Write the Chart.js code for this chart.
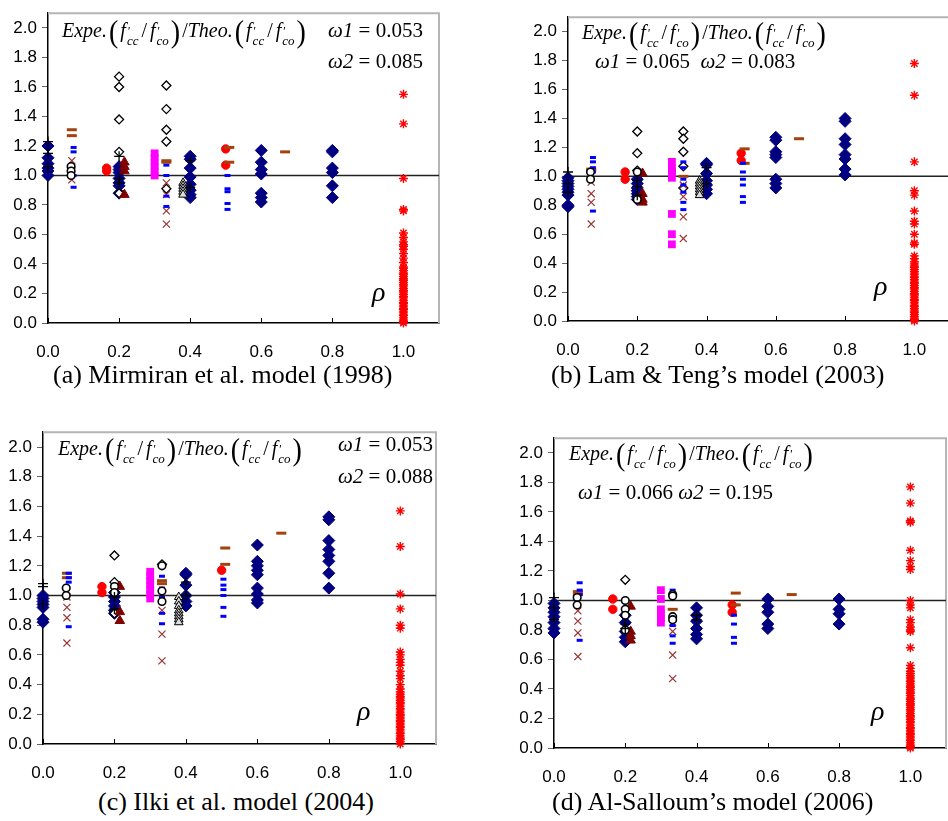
<!DOCTYPE html>
<html>
<head>
<meta charset="utf-8">
<script src="https://cdn.jsdelivr.net/npm/chart.js@4.4.1/dist/chart.umd.min.js"></script>
<style>
  html, body { margin: 0; padding: 0; background: #fff; }
  body { width: 948px; height: 821px; position: relative; overflow: hidden;
         font-family: "Liberation Serif", "Times New Roman", serif; }
  .panel { position: absolute; }
  .txt { position: absolute; white-space: nowrap; color: #000; line-height: 1; }
  .fm { font-size: 20px; }
  .fm i { font-style: italic; }
  .par { display: inline-block; font-size: 28px; transform: scaleY(1.15); vertical-align: -4px; margin: 0 2px; font-weight: 300; }
  .sl { margin: 0 3px; }
  .ss { display: inline-block; vertical-align: -8px; font-size: 13px; line-height: 10px; font-style: italic; margin-left: 1px; }
  .om { font-size: 21px; }
  .om i { font-style: italic; }
  .cap { font-size: 26px; }
  .rho { font-size: 28px; font-style: italic; }
</style>
</head>
<body>

<div class="panel" style="left:4px;top:-2px;width:443px;height:365px"><canvas id="ca" width="443" height="365"></canvas></div>
<div class="panel" style="left:524px;top:2px;width:433px;height:359px"><canvas id="cb" width="433" height="359"></canvas></div>
<div class="panel" style="left:-1px;top:417px;width:445px;height:367px"><canvas id="cc" width="445" height="367"></canvas></div>
<div class="panel" style="left:510px;top:423px;width:444px;height:365px"><canvas id="cd" width="444" height="365"></canvas></div>

<!-- formula & annotations -->
<div class="txt fm" style="left:62px;top:18px"><i>Expe.</i><span class="par">(</span><i>f</i><span class="ss">'<br>cc</span><span class="sl">/</span><i>f</i><span class="ss">'<br>co</span><span class="par">)</span>/<i>Theo.</i><span class="par">(</span><i>f</i><span class="ss">'<br>cc</span><span class="sl">/</span><i>f</i><span class="ss">'<br>co</span><span class="par">)</span></div>
<div class="txt om" style="left:328px;top:20px"><i>ω1</i> = 0.053</div>
<div class="txt om" style="left:328px;top:51px"><i>ω2</i> = 0.085</div>
<div class="txt rho" style="left:372px;top:278px">ρ</div>
<div class="txt cap" style="left:53px;top:362px">(a) Mirmiran et al. model (1998)</div>

<div class="txt fm" style="left:582px;top:20px"><i>Expe.</i><span class="par">(</span><i>f</i><span class="ss">'<br>cc</span><span class="sl">/</span><i>f</i><span class="ss">'<br>co</span><span class="par">)</span>/<i>Theo.</i><span class="par">(</span><i>f</i><span class="ss">'<br>cc</span><span class="sl">/</span><i>f</i><span class="ss">'<br>co</span><span class="par">)</span></div>
<div class="txt om" style="left:595px;top:51px"><i>ω1</i> = 0.065 &nbsp;<i>ω2</i> = 0.083</div>
<div class="txt rho" style="left:874px;top:272px">ρ</div>
<div class="txt cap" style="left:551px;top:362px">(b) Lam &amp; Teng’s model (2003)</div>

<div class="txt fm" style="left:58px;top:436px"><i>Expe.</i><span class="par">(</span><i>f</i><span class="ss">'<br>cc</span><span class="sl">/</span><i>f</i><span class="ss">'<br>co</span><span class="par">)</span>/<i>Theo.</i><span class="par">(</span><i>f</i><span class="ss">'<br>cc</span><span class="sl">/</span><i>f</i><span class="ss">'<br>co</span><span class="par">)</span></div>
<div class="txt om" style="left:338px;top:434px"><i>ω1</i> = 0.053</div>
<div class="txt om" style="left:338px;top:466px"><i>ω2</i> = 0.088</div>
<div class="txt rho" style="left:357px;top:697px">ρ</div>
<div class="txt cap" style="left:98px;top:789px">(c) Ilki et al. model (2004)</div>

<div class="txt fm" style="left:569px;top:441px"><i>Expe.</i><span class="par">(</span><i>f</i><span class="ss">'<br>cc</span><span class="sl">/</span><i>f</i><span class="ss">'<br>co</span><span class="par">)</span>/<i>Theo.</i><span class="par">(</span><i>f</i><span class="ss">'<br>cc</span><span class="sl">/</span><i>f</i><span class="ss">'<br>co</span><span class="par">)</span></div>
<div class="txt om" style="left:578px;top:482px"><i>ω1</i> = 0.066 <i>ω2</i> = 0.195</div>
<div class="txt rho" style="left:871px;top:697px">ρ</div>
<div class="txt cap" style="left:552px;top:789px">(d) Al-Salloum’s model (2006)</div>

<script>
// tick values
const xTicks = [0, 0.2, 0.4, 0.6, 0.8, 1.0];
const yTicks = [0, 0.2, 0.4, 0.6, 0.8, 1.0, 1.2, 1.4, 1.6, 1.8, 2.0];
const xMax = 1.1, yMax = 2.1;
const refLine = 1.0;

// each group: [rho, ratio, ratio, ...]
// (a) Mirmiran et al. (1998)
const aNavy = [[0, 1.20, 1.12, 1.08, 1.05, 1.03, 1.00], [0.2, 1.06, 1.04, 1.02, 0.98, 0.95, 0.93, 0.88],
  [0.4, 1.13, 1.11, 1.05, 0.99, 0.94, 0.90, 0.87, 0.85], [0.6, 1.17, 1.09, 1.04, 1.01, 0.88, 0.85, 0.82],
  [0.8, 1.17, 1.16, 1.05, 1.02, 0.93, 0.85]];
const aPlus = [[0, 1.23, 1.15, 1.06], [0.2, 1.13, 0.98, 0.95], [0.4, 1.10, 0.92]];
const aCircle = [[0.065, 1.06, 1.03, 1.00]];
const aBlueDash = [[0.072, 1.19, 1.16, 1.00, 0.92], [0.333, 1.07, 1.00, 0.86, 0.79], [0.505, 1.00, 0.91, 0.89, 0.81, 0.77]];
const aCross = [[0.067, 1.10, 1.03, 0.97], [0.333, 0.95, 0.87, 0.76, 0.67]];
const aBrownDash = [[0.067, 1.31, 1.27], [0.333, 1.10, 1.09], [0.51, 1.19, 1.09], [0.667, 1.16]];
const aRedDot = [[0.165, 1.05, 1.03], [0.5, 1.18, 1.07]];
const aTri = [[0.215, 1.09, 1.06, 1.03, 0.87]];
const aMagenta = [[0.3, 1.15, 1.12, 1.09, 1.06, 1.03, 1.00]];
const aDiamond = [[0.2, 1.67, 1.60, 1.38, 1.16, 0.88], [0.333, 1.61, 1.45, 1.31, 1.23, 0.91]];
const aOpenTri = [[0.38, 0.95, 0.93, 0.91, 0.89, 0.87]];
const aStar = [[1.0, 1.55, 1.35, 0.98, 0.77, 0.76, 0.61, 0.58, 0.55, 0.53, 0.52, 0.50, 0.47, 0.44, 0.41, 0.38,
  0.37, 0.355, 0.34, 0.33, 0.315, 0.30, 0.29, 0.275, 0.26, 0.25, 0.235, 0.22, 0.21, 0.195, 0.18, 0.17, 0.155,
  0.14, 0.13, 0.115, 0.10, 0.09, 0.075, 0.06, 0.05, 0.035, 0.02, 0.01, 0.0]];

// (b) Lam & Teng (2003)
const bNavy = [[0, 0.99, 0.97, 0.95, 0.93, 0.91, 0.89, 0.87, 0.80, 0.79], [0.2, 0.98, 0.95, 0.92, 0.90, 0.88, 0.86, 0.84],
  [0.4, 1.09, 1.08, 1.02, 0.97, 0.94, 0.91, 0.88], [0.6, 1.27, 1.25, 1.17, 1.15, 1.13, 0.98, 0.95, 0.92],
  [0.8, 1.40, 1.38, 1.26, 1.22, 1.15, 1.12, 1.05, 1.01]];
const bPlus = [[0, 1.03, 0.95, 0.89], [0.2, 0.97, 0.93, 0.87], [0.4, 1.06, 0.95]];
const bCircle = [[0.065, 1.03, 0.98], [0.2, 1.03, 0.84]];
const bBlueDash = [[0.072, 1.13, 1.10, 1.06, 1.03, 0.76], [0.333, 1.10, 1.06, 0.98, 0.94, 0.89, 0.82, 0.77],
  [0.505, 1.09, 1.03, 0.98, 0.94, 0.86, 0.82]];
const bCross = [[0.067, 0.96, 0.88, 0.82, 0.67], [0.333, 0.94, 0.86, 0.72, 0.57]];
const bBrownDash = [[0.067, 1.05, 1.04], [0.333, 1.00], [0.51, 1.19, 1.09], [0.667, 1.26]];
const bRedDot = [[0.165, 1.03, 0.98], [0.5, 1.16, 1.11]];
const bTri = [[0.215, 1.02, 0.88, 0.84, 0.82]];
const bMagenta = [[0.3, 1.10, 1.06, 1.04, 1.02, 0.99, 0.74, 0.60, 0.53]];
const bDiamond = [[0.2, 1.31, 1.16, 1.04], [0.333, 1.31, 1.26, 1.17, 1.07, 0.92]];
const bOpenTri = [[0.38, 0.97, 0.95, 0.93, 0.91, 0.89, 0.87]];
const bStar = [[1.0, 1.78, 1.56, 1.10, 0.90, 0.87, 0.76, 0.69, 0.67, 0.60, 0.54, 0.53, 0.45, 0.43, 0.41, 0.395,
  0.38, 0.37, 0.355, 0.34, 0.325, 0.31, 0.30, 0.285, 0.27, 0.26, 0.245, 0.23, 0.22, 0.205, 0.19, 0.18, 0.165,
  0.15, 0.14, 0.125, 0.11, 0.10, 0.085, 0.07, 0.06, 0.045, 0.03, 0.02, 0.01, 0.0]];

// (c) Ilki et al. (2004)
const cNavy = [[0, 1.00, 0.98, 0.96, 0.94, 0.92, 0.84, 0.82], [0.2, 1.02, 0.99, 0.96, 0.93, 0.90, 0.88],
  [0.4, 1.15, 1.14, 1.07, 1.00, 0.96, 0.93], [0.6, 1.34, 1.23, 1.20, 1.17, 1.14, 1.05, 1.01, 0.97, 0.95],
  [0.8, 1.53, 1.51, 1.37, 1.31, 1.27, 1.23, 1.15, 1.05]];
const cPlus = [[0, 1.08, 1.06, 0.94], [0.2, 0.99, 0.91], [0.4, 1.09, 1.00]];
const cCircle = [[0.065, 1.05, 1.00], [0.2, 1.06, 1.02], [0.333, 1.20, 1.03, 0.96]];
const cBlueDash = [[0.072, 1.15, 1.12, 1.09, 0.79], [0.333, 1.13, 1.05, 0.99, 0.88, 0.81],
  [0.505, 1.11, 1.07, 1.04, 1.00, 0.92, 0.86]];
const cCross = [[0.067, 0.99, 0.92, 0.85, 0.68], [0.333, 0.98, 0.90, 0.74, 0.56]];
const cBrownDash = [[0.067, 1.15, 1.12], [0.333, 1.10, 1.08], [0.51, 1.32, 1.21], [0.667, 1.42]];
const cRedDot = [[0.165, 1.06, 1.02], [0.5, 1.17]];
const cTri = [[0.215, 1.06, 0.89, 0.83]];
const cMagenta = [[0.3, 1.16, 1.13, 1.10, 1.07, 1.04, 1.01, 0.98]];
const cDiamond = [[0.2, 1.27, 1.09, 0.88], [0.333, 1.21]];
const cOpenTri = [[0.38, 0.99, 0.96, 0.93, 0.90, 0.88, 0.86, 0.84, 0.82]];
const cStar = [[1.0, 1.57, 1.33, 1.01, 0.91, 0.80, 0.78, 0.62, 0.60, 0.57, 0.55, 0.53, 0.49, 0.46, 0.44, 0.40,
  0.37, 0.35, 0.335, 0.32, 0.31, 0.295, 0.28, 0.27, 0.255, 0.24, 0.23, 0.215, 0.20, 0.19, 0.175, 0.16, 0.15,
  0.135, 0.12, 0.11, 0.095, 0.08, 0.07, 0.055, 0.04, 0.03, 0.015, 0.0]];

// (d) Al-Salloum (2006)
const dNavy = [[0, 0.98, 0.95, 0.92, 0.89, 0.85, 0.81, 0.78], [0.2, 0.90, 0.85, 0.79, 0.75, 0.72],
  [0.4, 0.95, 0.90, 0.86, 0.81, 0.77, 0.74], [0.6, 1.01, 0.96, 0.92, 0.84, 0.81],
  [0.8, 1.01, 0.94, 0.91, 0.84]];
const dPlus = [[0, 1.02, 0.95, 0.87], [0.2, 0.84, 0.81], [0.4, 0.90, 0.87]];
const dCircle = [[0.065, 1.02, 0.97], [0.2, 1.00, 0.94, 0.90, 0.80], [0.333, 1.04, 1.03, 0.89, 0.87]];
const dBlueDash = [[0.072, 1.12, 1.07, 1.04, 0.73], [0.333, 1.07, 1.04, 0.83, 0.76, 0.71],
  [0.505, 0.90, 0.84, 0.75, 0.71]];
const dCross = [[0.067, 0.93, 0.86, 0.78, 0.62], [0.333, 0.85, 0.79, 0.63, 0.47]];
const dBrownDash = [[0.067, 1.06, 1.04], [0.333, 0.94], [0.51, 1.05, 0.97], [0.667, 1.04]];
const dRedDot = [[0.165, 1.01, 0.94], [0.5, 0.97, 0.92]];
const dTri = [[0.215, 0.96, 0.79, 0.76, 0.73]];
const dMagenta = [[0.3, 1.07, 1.01, 0.94, 0.91, 0.88, 0.85]];
const dDiamond = [[0.2, 1.14]];
const dOpenTri = [];
const dStar = [[1.0, 1.77, 1.66, 1.54, 1.53, 1.34, 1.27, 1.23, 1.21, 1.00, 0.97, 0.95, 0.87, 0.85, 0.82, 0.80,
  0.79, 0.68, 0.56, 0.54, 0.52, 0.505, 0.49, 0.475, 0.46, 0.45, 0.435, 0.42, 0.41, 0.395, 0.38, 0.37, 0.355,
  0.34, 0.33, 0.315, 0.30, 0.29, 0.275, 0.26, 0.25, 0.235, 0.22, 0.21, 0.195, 0.18, 0.17, 0.155, 0.14, 0.13,
  0.115, 0.10, 0.09, 0.075, 0.06, 0.05, 0.035, 0.02, 0.01, 0.0]];

// marker styles for each series
const seriesStyles = [
  { style: 'rectRot', r: 6, fill: '#000080', stroke: '#000080', bw: 1, order: 50 },
  { style: 'cross', r: 5, fill: '#000', stroke: '#000', bw: 1.3, order: 1 },
  { style: 'circle', r: 3.8, fill: '#fff', stroke: '#000', bw: 1.6, order: 2 },
  { style: 'line', r: 3, fill: '#0000ff', stroke: '#0000ff', bw: 3, order: 3 },
  { style: 'crossRot', r: 5, fill: '#993333', stroke: '#993333', bw: 1.2, order: 4 },
  { style: 'line', r: 5, fill: '#a4420e', stroke: '#a4420e', bw: 3, order: 5 },
  { style: 'circle', r: 4.2, fill: '#ff0000', stroke: '#ff0000', bw: 1, order: 6 },
  { style: 'triangle', r: 5.5, fill: '#800000', stroke: '#800000', bw: 1, order: 7 },
  { style: 'rect', r: 5.5, fill: '#ff00ff', stroke: '#ff00ff', bw: 0, order: 8 },
  { style: 'rectRot', r: 4.5, fill: '#fff', stroke: '#000', bw: 1.3, order: 9 },
  { style: 'triangle', r: 5, fill: '#ddd', stroke: '#000', bw: 1, order: 10 },
  { style: 'star', r: 4.5, fill: '#ff0000', stroke: '#ff0000', bw: 1.4, order: 11 }
];

function toPoints(groups) {
  const pts = [];
  groups.forEach(g => {
    for (let i = 1; i < g.length; i++) pts.push({ x: g[0], y: g[i] });
  });
  return pts;
}

// gray top/right frame and short inward ticks on the x axis
const framePlugin = {
  id: 'frame',
  beforeDatasetsDraw(chart) {
    const ctx = chart.ctx, a = chart.chartArea, x = chart.scales.x;
    ctx.save();
    ctx.strokeStyle = '#b5b5b5';
    ctx.lineWidth = 2;
    ctx.beginPath();
    ctx.moveTo(a.left, a.top);
    ctx.lineTo(a.right, a.top);
    ctx.lineTo(a.right, a.bottom);
    ctx.stroke();
    ctx.strokeStyle = '#000';
    ctx.lineWidth = 1;
    xTicks.forEach(v => {
      const px = Math.round(x.getPixelForValue(v)) + 0.5;
      ctx.beginPath();
      ctx.moveTo(px, a.bottom);
      ctx.lineTo(px, a.bottom - 5);
      ctx.stroke();
    });
    ctx.restore();
  }
};

function makeChart(id, seriesData) {
  const datasets = [{
    data: [{ x: 0, y: refLine }, { x: xMax, y: refLine }],
    showLine: true, pointRadius: 0, borderColor: '#222', borderWidth: 1.5, order: 100
  }];
  seriesData.forEach((groups, i) => {
    const st = seriesStyles[i];
    datasets.push({
      data: toPoints(groups),
      pointStyle: st.style,
      pointRadius: st.r,
      backgroundColor: st.fill,
      borderColor: st.stroke,
      borderWidth: st.bw,
      showLine: false,
      clip: false,
      order: st.order
    });
  });

  const tickFont = { family: '"Liberation Sans", Arial, sans-serif', size: 17 };
  new Chart(document.getElementById(id), {
    type: 'scatter',
    data: { datasets: datasets },
    options: {
      responsive: false,
      animation: false,
      devicePixelRatio: 1,
      layout: { padding: { top: 4, right: 4, left: 0, bottom: 0 } },
      plugins: { legend: { display: false }, tooltip: { enabled: false } },
      scales: {
        x: {
          type: 'linear', min: 0, max: xMax,
          afterBuildTicks: s => { s.ticks = xTicks.map(v => ({ value: v })); },
          afterFit: s => { s.height = 40; },
          ticks: { callback: v => v.toFixed(1), font: tickFont, color: '#000', padding: 19, maxRotation: 0, autoSkip: false },
          grid: { drawOnChartArea: false, drawTicks: false },
          border: { color: '#000', width: 1.5 }
        },
        y: {
          type: 'linear', min: 0, max: yMax,
          afterBuildTicks: s => { s.ticks = yTicks.map(v => ({ value: v })); },
          afterFit: s => { s.width = 44; },
          ticks: { callback: v => v.toFixed(1), font: tickFont, color: '#000', padding: 5, autoSkip: false },
          grid: { drawOnChartArea: false, drawTicks: true, tickLength: 6, color: '#666' },
          border: { color: '#000', width: 1.5 }
        }
      }
    },
    plugins: [framePlugin]
  });
}

makeChart('ca', [aNavy, aPlus, aCircle, aBlueDash, aCross, aBrownDash, aRedDot, aTri, aMagenta, aDiamond, aOpenTri, aStar]);
makeChart('cb', [bNavy, bPlus, bCircle, bBlueDash, bCross, bBrownDash, bRedDot, bTri, bMagenta, bDiamond, bOpenTri, bStar]);
makeChart('cc', [cNavy, cPlus, cCircle, cBlueDash, cCross, cBrownDash, cRedDot, cTri, cMagenta, cDiamond, cOpenTri, cStar]);
makeChart('cd', [dNavy, dPlus, dCircle, dBlueDash, dCross, dBrownDash, dRedDot, dTri, dMagenta, dDiamond, dOpenTri, dStar]);
</script>
</body>
</html>
